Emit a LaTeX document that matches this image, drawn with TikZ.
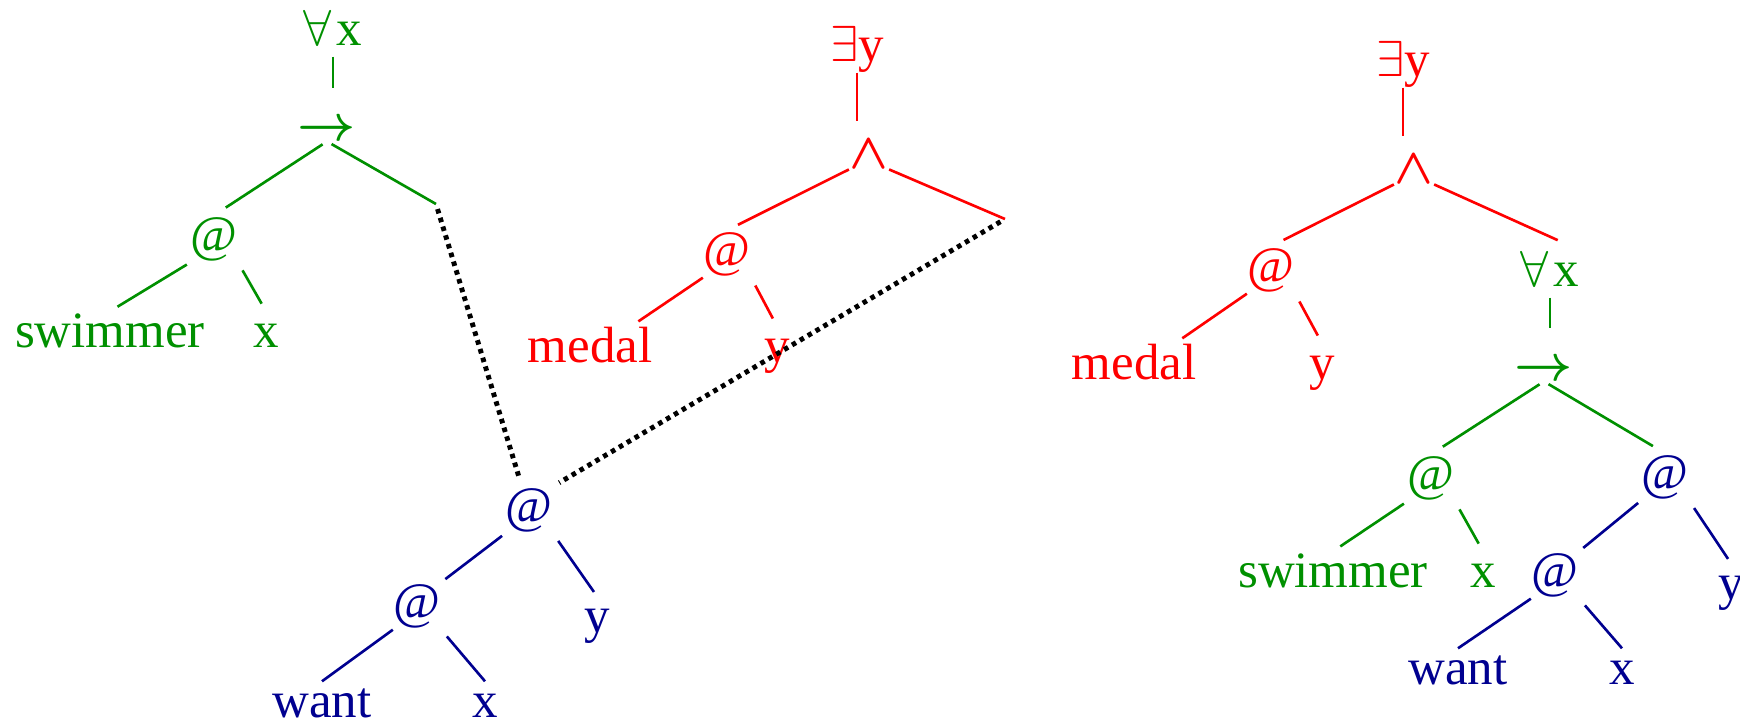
\documentclass[tikz,border=0pt]{standalone}
\usepackage{bm}
\usepackage{fontspec}
\setmainfont{Liberation Serif}
\usepackage{xcolor}
\usepackage{tikz}
\usetikzlibrary{positioning,calc}

\definecolor{fgreen}{RGB}{0,144,0}
\definecolor{fred}{RGB}{255,0,0}
\definecolor{fblue}{RGB}{0,0,144}

\begin{document}
\begin{tikzpicture}[
    on grid,
    every node/.style={font=\fontsize{14.5}{17}\selectfont},
    word/.style={inner sep=0pt, text height=10.2pt, text depth=2.9pt},
    op/.style={inner sep=0pt, text height=7.25pt, text depth=0pt},
    gline/.style={draw=fgreen, line width=0.75pt},
    rline/.style={draw=fred, line width=0.75pt},
    bline/.style={draw=fblue, line width=0.75pt},
    dotline/.style={draw=black, line width=1.4pt, dash pattern=on 1.3pt off 1.3pt}
]
\useasboundingbox (0,0) rectangle (17.40,-7.24);

% Left tree: forall x
\node[word, text=fgreen] (Ax1) at (3.33,-0.33) {$\forall$\hspace{1.5pt}x};
\node[op, text=fgreen, below left=0.95 and 0.06 of Ax1] (imp1) {$\bm{\rightarrow}$};
\node[word, text=fgreen, below left=1.11 and 1.13 of imp1] (at1) {@};
\coordinate[below right=0.76 and 1.09 of imp1] (slot1);
\node[word, text=fgreen, below left=0.96 and 1.04 of at1] (sw1) {swimmer};
\node[word, text=fgreen, below right=0.96 and 0.52 of at1] (x1) {x};

% Middle tree: exists y
\node[word, text=fred] (Ey1) at (8.57,-0.49) {$\exists$y};
\node[op, text=fred, below right=1.07 and 0.12 of Ey1] (and1) {$\bm{\wedge}$};
\node[word, text=fred, below left=0.98 and 1.42 of and1] (at2) {@};
\coordinate[below right=0.63 and 1.36 of and1] (slot2);
\node[word, text=fred, below left=0.96 and 1.37 of at2] (me1) {medal};
\node[word, text=fred, below right=0.96 and 0.50 of at2] (y1) {y};

% Bottom tree: want
\node[word, text=fblue] (at3) at (5.29,-5.10) {@};
\node[word, text=fblue, below left=0.96 and 1.12 of at3] (at4) {@};
\node[word, text=fblue, below right=1.10 and 0.68 of at3] (y2) {y};
\node[word, text=fblue, below left=0.99 and 0.95 of at4] (wa1) {want};
\node[word, text=fblue, below right=0.99 and 0.68 of at4] (x2) {x};

% Right tree: combined
\node[word, text=fred] (Ey2) at (14.03,-0.64) {$\exists$y};
\node[op, text=fred, below right=1.07 and 0.11 of Ey2] (and2) {$\bm{\wedge}$};
\node[word, text=fred, below left=0.99 and 1.43 of and2] (at5) {@};
\node[word, text=fgreen, below right=1.03 and 1.36 of and2] (Ax2) {$\forall$\hspace{1.5pt}x};
\node[word, text=fred, below left=0.97 and 1.37 of at5] (me2) {medal};
\node[word, text=fred, below right=0.97 and 0.51 of at5] (y3) {y};
\node[op, text=fgreen, below left=0.94 and 0.06 of Ax2] (imp2) {$\bm{\rightarrow}$};
\node[word, text=fgreen, below left=1.10 and 1.13 of imp2] (at6) {@};
\node[word, text=fblue, below right=1.09 and 1.21 of imp2] (at7) {@};
\node[word, text=fgreen, below left=0.97 and 0.98 of at6] (sw2) {swimmer};
\node[word, text=fgreen, below right=0.97 and 0.52 of at6] (x3) {x};
\node[word, text=fblue, below left=0.98 and 1.10 of at7] (at8) {@};
\node[word, text=fblue, below right=1.10 and 0.66 of at7] (y4) {y};
\node[word, text=fblue, below left=0.97 and 0.97 of at8] (wa2) {want};
\node[word, text=fblue, below right=0.97 and 0.67 of at8] (x4) {x};

% Edges - left tree
\draw[gline, shorten >=7.5pt] (Ax1.south) -- (Ax1.south |- imp1.north);
\draw[gline, shorten <=1.5pt, shorten >=4pt] (imp1.south) -- (at1.north);
\draw[gline, shorten <=1.5pt] (imp1.south) -- (slot1);
\draw[gline, shorten <=1pt, shorten >=2.5pt] (at1.south west) -- (sw1.north);
\draw[gline, shorten <=2.5pt, shorten >=2.5pt] (at1.south east) -- (x1.north);

% Edges - middle tree
\draw[rline, shorten >=6pt] (Ey1.south) -- (Ey1.south |- and1.north);
\draw[rline, shorten >=3.5pt] (and1.south west) -- (at2.north);
\draw[rline] (and1.south east) -- (slot2);
\draw[rline, shorten >=2.5pt] (at2.south west) -- (me1.30);
\draw[rline, shorten <=2.5pt, shorten >=2.5pt] (at2.south east) -- (y1.north);

% Edges - bottom tree
\draw[bline, shorten <=1pt, shorten >=1.5pt] (at3.south west) -- (at4.north east);
\draw[bline, shorten <=2.5pt, shorten >=1.5pt] (at3.south east) -- (y2.north);
\draw[bline] (at4.south west) -- (wa1.north);
\draw[bline, shorten <=2.5pt] (at4.south east) -- (x2.north);

% Dotted links into the bottom tree
\draw[dotline, shorten <=1.5pt, shorten >=2.5pt] (slot1) -- (at3);
\draw[dotline, shorten <=1.5pt, shorten >=2pt] (slot2) -- (at3.north east);

% Edges - right tree
\draw[rline, shorten >=6pt] (Ey2.south) -- (Ey2.south |- and2.north);
\draw[rline, shorten >=4pt] (and2.south west) -- (at5.north);
\draw[rline, shorten >=7pt] (and2.south east) -- (Ax2.north east);
\draw[rline, shorten >=2.5pt] (at5.south west) -- (me2.30);
\draw[rline, shorten <=2.5pt, shorten >=2.5pt] (at5.south east) -- (y3.north);
\draw[gline, shorten >=7.5pt] (Ax2.south) -- (Ax2.south |- imp2.north);
\draw[gline, shorten <=1.5pt, shorten >=4pt] (imp2.south) -- (at6.north);
\draw[gline, shorten <=1.5pt, shorten >=4pt] (imp2.south) -- (at7.north);
\draw[gline, shorten <=1pt, shorten >=2.5pt] (at6.south west) -- (sw2.north);
\draw[gline, shorten <=2.5pt, shorten >=2.5pt] (at6.south east) -- (x3.north);
\draw[bline, shorten <=1pt, shorten >=1.5pt] (at7.south west) -- (at8.north east);
\draw[bline, shorten <=2.5pt, shorten >=1.5pt] (at7.south east) -- (y4.north);
\draw[bline] (at8.south west) -- (wa2.north);
\draw[bline, shorten <=2.5pt] (at8.south east) -- (x4.north);

\end{tikzpicture}
\end{document}
